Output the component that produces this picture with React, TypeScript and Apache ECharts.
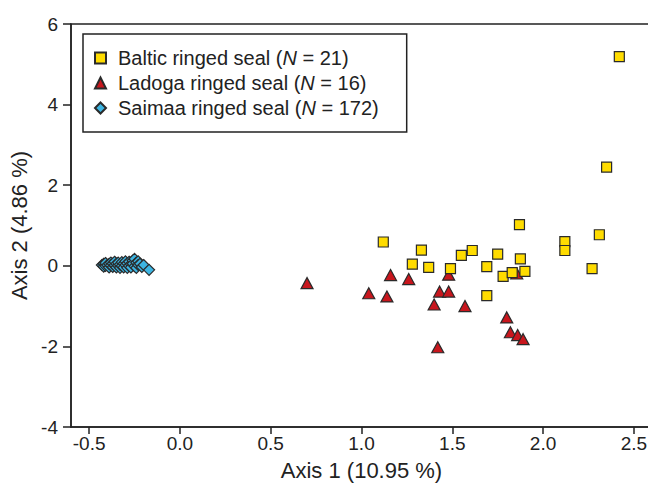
import React, { useEffect, useRef } from "react";
import * as echarts from "echarts";

const xTicks = [-0.5, 0.0, 0.5, 1.0, 1.5, 2.0, 2.5];
const yTicks = [-4, -2, 0, 2, 4, 6];

const seriesNames = ["Baltic ringed seal", "Ladoga ringed seal", "Saimaa ringed seal"];
const seriesN = [21, 16, 172];

const baltic: number[][] = [
  [1.12, 0.59], [1.28, 0.04], [1.33, 0.39], [1.37, -0.04], [1.49, -0.07],
  [1.55, 0.26], [1.61, 0.38], [1.69, -0.02], [1.69, -0.74], [1.75, 0.29],
  [1.78, -0.26], [1.83, -0.17], [1.87, 1.02], [1.875, 0.17], [1.9, -0.14],
  [2.12, 0.6], [2.12, 0.38], [2.27, -0.07], [2.31, 0.77], [2.35, 2.45],
  [2.42, 5.19],
];

const ladoga: number[][] = [
  [0.7, -0.43], [1.04, -0.68], [1.14, -0.76], [1.16, -0.23], [1.26, -0.33],
  [1.4, -0.96], [1.42, -2.02], [1.43, -0.64], [1.48, -0.64], [1.48, -0.22],
  [1.57, -1.0], [1.8, -1.28], [1.82, -1.65], [1.855, -0.19], [1.86, -1.72],
  [1.89, -1.82],
];

const saimaa: number[][] = [
  [-0.43, 0.02], [-0.42, 0.05], [-0.42, -0.02], [-0.41, 0.0], [-0.41, 0.07], [-0.4, 0.02],
  [-0.39, -0.04], [-0.39, 0.05], [-0.38, 0.08], [-0.38, 0.01], [-0.37, -0.03],
  [-0.37, 0.05], [-0.36, 0.02], [-0.36, 0.1], [-0.35, -0.04], [-0.35, 0.05],
  [-0.34, 0.01], [-0.34, 0.08], [-0.33, -0.05], [-0.33, 0.03], [-0.32, 0.09],
  [-0.32, 0.0], [-0.31, 0.05], [-0.31, -0.04], [-0.3, 0.11], [-0.3, 0.02],
  [-0.29, -0.05], [-0.29, 0.06], [-0.28, 0.1], [-0.28, 0.0], [-0.27, 0.04],
  [-0.27, -0.04], [-0.26, 0.13], [-0.26, 0.05], [-0.25, -0.01], [-0.25, 0.17],
  [-0.24, 0.08], [-0.24, -0.05], [-0.23, 0.11], [-0.23, 0.02], [-0.22, 0.05],
  [-0.21, -0.03], [-0.2, 0.02], [-0.17, -0.1],
];

const FONT = "'Liberation Sans', Arial, sans-serif";
const INK = "#222";

export default function App() {
  const ref = useRef<HTMLDivElement>(null);
  useEffect(() => {
    if (!ref.current) return;
    const chart = echarts.init(ref.current, null, { renderer: "svg" });
    const labelFor = (name: string) => {
      const i = seriesNames.indexOf(name);
      return `${name} ({i|N} = ${seriesN[i]})`;
    };
    chart.setOption({
      animation: false,
      backgroundColor: "#fff",
      grid: {
        left: 71,
        top: 24,
        bottom: 66,
        right: 0,
        show: true,
        borderColor: INK,
        borderWidth: 1.5,
        containLabel: false,
      },
      legend: {
        orient: "vertical",
        left: 83,
        top: 34,
        padding: [14, 28, 14, 11],
        itemGap: 5,
        itemWidth: 11,
        itemHeight: 11,
        borderColor: INK,
        borderWidth: 1.5,
        backgroundColor: "#fff",
        formatter: labelFor,
        textStyle: {
          fontFamily: FONT,
          fontSize: 20,
          color: INK,
          lineHeight: 20,
          padding: [0, 0, 0, 7],
          rich: {
            i: { fontFamily: FONT, fontSize: 20, fontStyle: "italic", color: INK, lineHeight: 20 },
          },
        },
        data: seriesNames,
      },
      xAxis: {
        type: "value",
        min: -0.6,
        max: 2.6,
        name: "Axis 1 (10.95 %)",
        nameLocation: "middle",
        nameGap: 32,
        nameTextStyle: { fontFamily: FONT, fontSize: 22, color: INK },
        splitLine: { show: false },
        axisLine: { show: true, onZero: false, lineStyle: { color: INK, width: 1.5 } },
        axisTick: { show: true, length: 7, lineStyle: { color: INK, width: 1.5 }, customValues: xTicks },
        axisLabel: {
          fontFamily: FONT,
          fontSize: 19,
          color: INK,
          margin: 7,
          customValues: xTicks,
          formatter: (v: number) => v.toFixed(1),
        },
      },
      yAxis: {
        type: "value",
        min: -4,
        max: 6,
        interval: 2,
        name: "Axis 2 (4.86 %)",
        nameLocation: "middle",
        nameGap: 38,
        nameTextStyle: { fontFamily: FONT, fontSize: 22, color: INK },
        splitLine: { show: false },
        axisLine: { show: true, onZero: false, lineStyle: { color: INK, width: 1.5 } },
        axisTick: { show: true, length: 8, lineStyle: { color: INK, width: 1.5 } },
        axisLabel: {
          fontFamily: FONT,
          fontSize: 19,
          color: INK,
          margin: 13,
          customValues: yTicks,
        },
      },
      series: [
        {
          name: seriesNames[0],
          type: "scatter",
          symbol: "rect",
          symbolSize: 10,
          itemStyle: { color: "#FFDC00", borderColor: "#2a2a2a", borderWidth: 1.2, opacity: 1 },
          data: baltic,
          z: 3,
        },
        {
          name: seriesNames[1],
          type: "scatter",
          symbol: "triangle",
          symbolSize: [12, 11],
          itemStyle: { color: "#C8161D", borderColor: "#2a2a2a", borderWidth: 1.2, opacity: 1 },
          data: ladoga,
          z: 2,
        },
        {
          name: seriesNames[2],
          type: "scatter",
          symbol: "diamond",
          symbolSize: 11,
          itemStyle: { color: "#3DB5E2", borderColor: "#2a2a2a", borderWidth: 1.2, opacity: 1 },
          data: saimaa,
          z: 2,
        },
      ],
    });
    return () => chart.dispose();
  }, []);
  return (
    <div style={{ position: "fixed", left: 0, top: 0, width: 648, height: 493, overflow: "hidden", background: "#fff" }}>
      <div ref={ref} style={{ width: 652, height: 493 }} />
    </div>
  );
}
